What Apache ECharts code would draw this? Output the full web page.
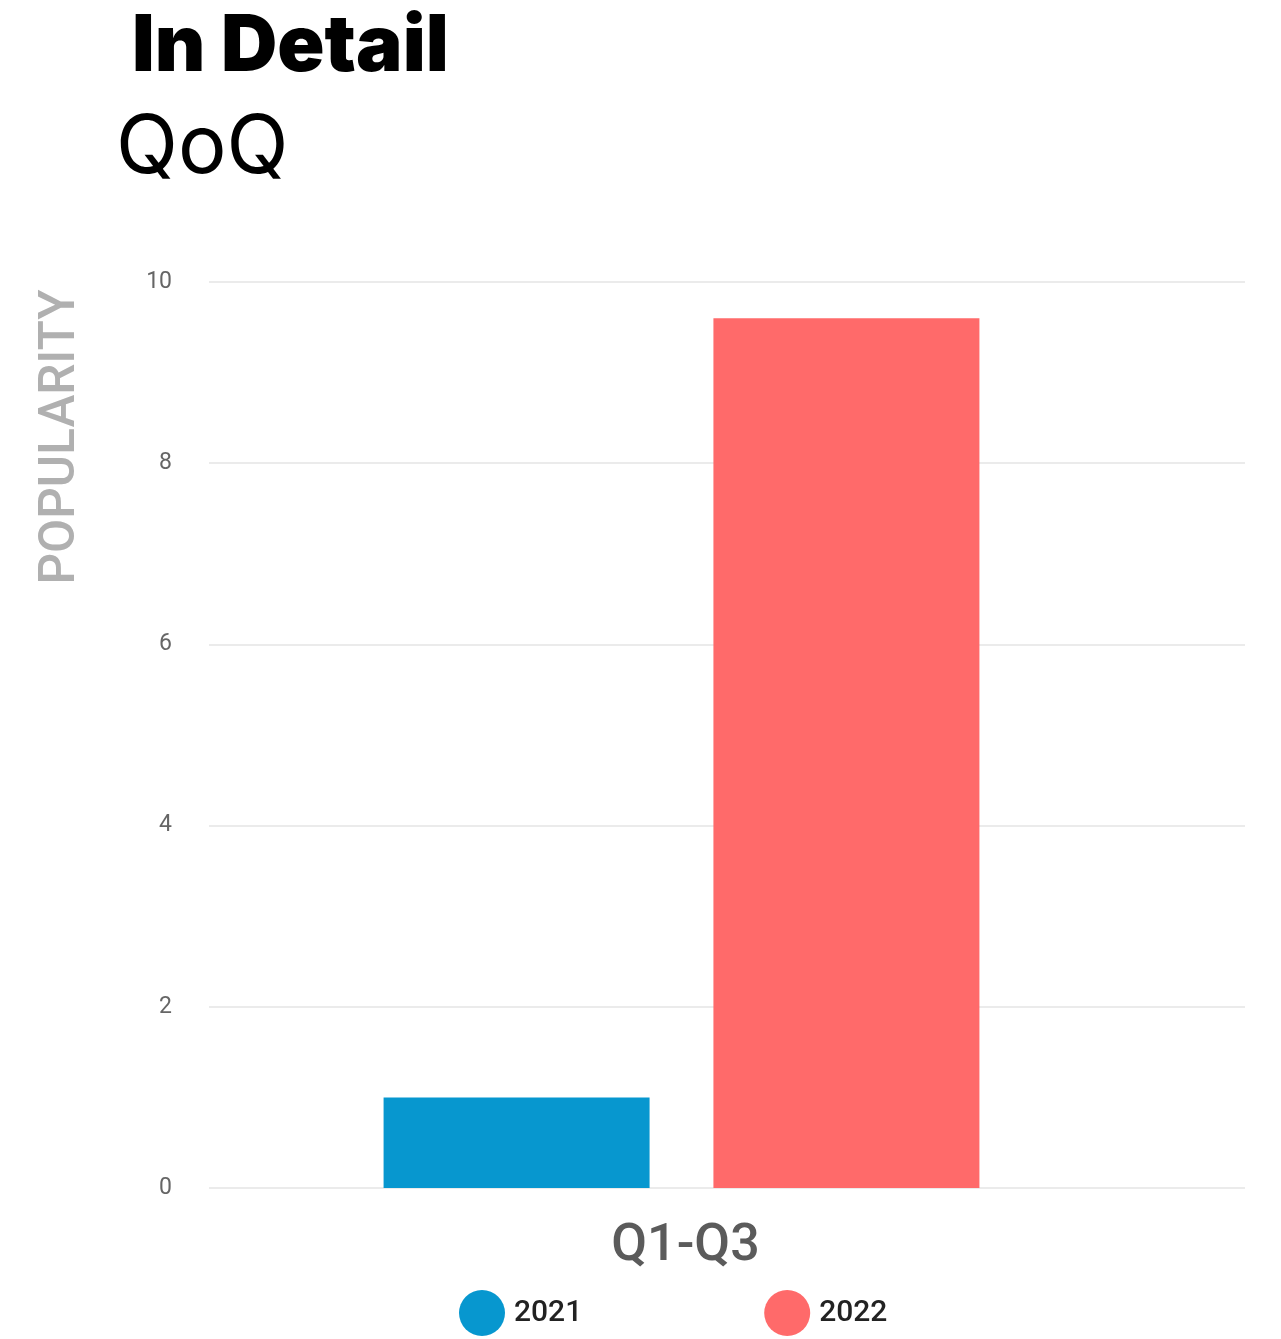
<!DOCTYPE html>
<html>
<head>
<meta charset="utf-8">
<script src="https://cdn.jsdelivr.net/npm/echarts@6/dist/echarts.min.js"></script>
<style>
html,body{margin:0;padding:0;background:#fff;}
#chart{width:1281px;height:1339px;}
</style>
</head>
<body>
<div id="chart"></div>
<script>
const categories = ['Q1-Q3'];
const seriesNames = ['2021', '2022'];
const values2021 = [1.0];
const values2022 = [9.6];
const yTicks = { min: 0, max: 10, interval: 2 };

const chart = echarts.init(document.getElementById('chart'));
const option = {
  backgroundColor: '#ffffff',
  animation: false,
  title: [
    { text: 'In Detail', left: 127, top: 4,
      textStyle: { fontFamily: 'Inter', fontSize: 78, fontWeight: 900, color: '#000' } },
    { text: 'QoQ', left: 111, top: 103,
      textStyle: { fontFamily: 'Inter', fontSize: 81, fontWeight: 400, color: '#000' } }
  ],
  graphic: [
    { type: 'text', x: 62, y: 437, rotation: Math.PI / 2,
      style: { text: 'POPULARITY', fontFamily: 'Roboto', fontSize: 49.5, fontWeight: 500,
               fill: '#b0b0b0', align: 'center', verticalAlign: 'middle' } }
  ],
  legend: {
    left: 454, top: 1285,
    icon: 'circle', itemWidth: 46, itemHeight: 46, itemGap: 182,
    textStyle: { fontFamily: 'Roboto', fontSize: 30, fontWeight: 500, color: '#222', padding: [0, 0, 0, 4] },
    data: seriesNames
  },
  grid: [
    { left: 209, right: 36, top: 282, bottom: 151 },
    { left: 118, right: 36, top: 282, bottom: 151 }
  ],
  xAxis: [
    { type: 'category', gridIndex: 0, data: categories, show: false },
    { type: 'category', gridIndex: 1, data: categories,
      axisLine: { show: false }, axisTick: { show: false },
      axisLabel: { fontFamily: 'Roboto', fontSize: 52, fontWeight: 500, color: '#5b5b5b', margin: 33,
                   padding: [0, 0, 0, 8] } }
  ],
  yAxis: [
    { type: 'value', gridIndex: 0, min: yTicks.min, max: yTicks.max, interval: yTicks.interval,
      axisLine: { show: false }, axisTick: { show: false },
      axisLabel: { fontFamily: 'Roboto', fontSize: 23, color: '#666', margin: 37, padding: [5, 0, 0, 0] },
      splitLine: { lineStyle: { color: '#e4e4e4', width: 1.5 } } },
    { type: 'value', gridIndex: 1, min: yTicks.min, max: yTicks.max, interval: yTicks.interval,
      show: false, splitLine: { show: false } }
  ],
  series: [
    { name: seriesNames[0], type: 'bar', xAxisIndex: 1, yAxisIndex: 1, data: values2021,
      barWidth: 266, barGap: '24%', itemStyle: { color: '#0797cf' } },
    { name: seriesNames[1], type: 'bar', xAxisIndex: 1, yAxisIndex: 1, data: values2022,
      barWidth: 266, barGap: '24%', itemStyle: { color: '#ff6a6a' } }
  ]
};
chart.setOption(option);
</script>
</body>
</html>
